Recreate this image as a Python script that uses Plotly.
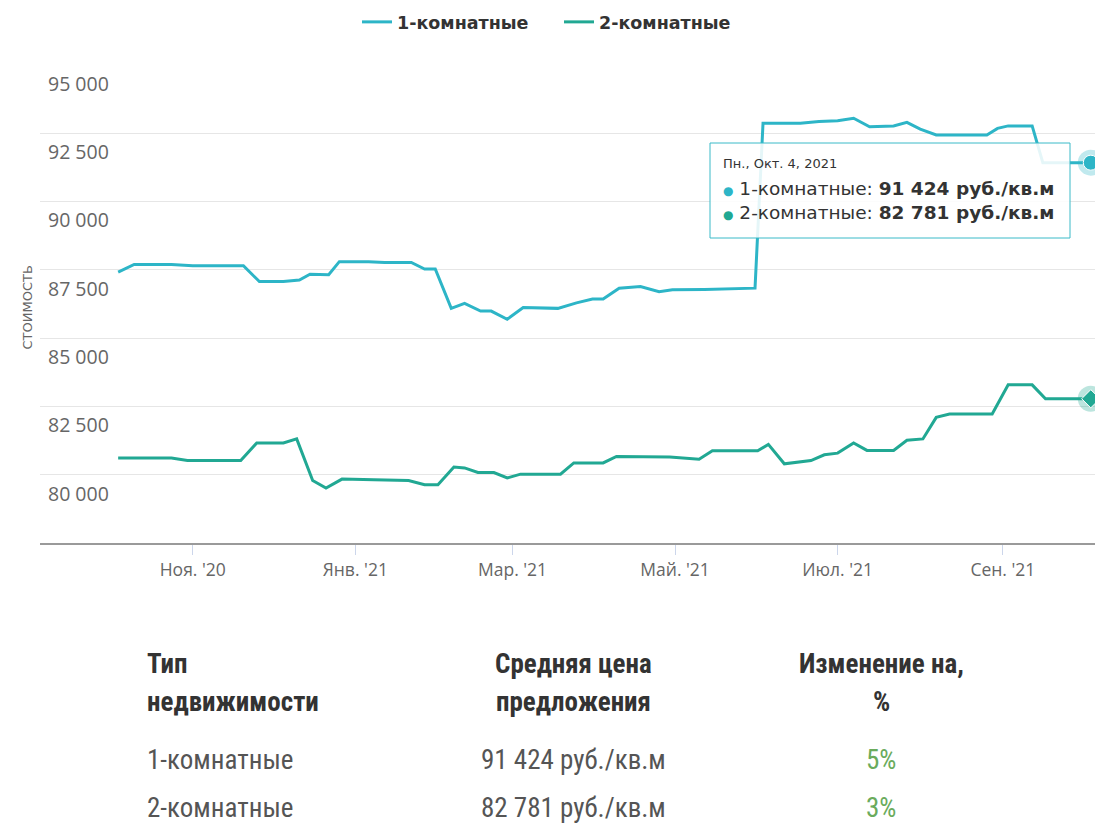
import plotly.graph_objects as go

# ---------------- data ----------------
series_names = ["1-комнатные", "2-комнатные"]

dates_1 = ["2020-10-04", "2020-10-10", "2020-10-24", "2020-11-01", "2020-11-20", "2020-11-26",
           "2020-12-05", "2020-12-11", "2020-12-15", "2020-12-22", "2020-12-26", "2021-01-06",
           "2021-01-12", "2021-01-22", "2021-01-27", "2021-01-31", "2021-02-06", "2021-02-11",
           "2021-02-17", "2021-02-21", "2021-02-27", "2021-03-05", "2021-03-18", "2021-03-25",
           "2021-03-31", "2021-04-04", "2021-04-10", "2021-04-18", "2021-04-25", "2021-04-30",
           "2021-05-12", "2021-05-31", "2021-06-03", "2021-06-17", "2021-06-24", "2021-07-01",
           "2021-07-07", "2021-07-13", "2021-07-22", "2021-07-27", "2021-08-01", "2021-08-07",
           "2021-08-26", "2021-08-30", "2021-09-03", "2021-09-12", "2021-09-16", "2021-10-04"]
values_1 = [87420, 87700, 87700, 87650, 87650, 87070,
            87070, 87130, 87340, 87320, 87800, 87800,
            87770, 87770, 87530, 87530, 86090, 86270,
            85990, 85990, 85690, 86120, 86090, 86290,
            86430, 86430, 86830, 86890, 86700, 86770,
            86780, 86830, 92870, 92870, 92930, 92960,
            93050, 92740, 92770, 92900, 92650, 92440,
            92440, 92680, 92770, 92770, 91424, 91424]

dates_2 = ["2020-10-04", "2020-10-24", "2020-10-30", "2020-11-19", "2020-11-25", "2020-12-05",
           "2020-12-10", "2020-12-16", "2020-12-21", "2020-12-27", "2021-01-08", "2021-01-21",
           "2021-01-27", "2021-02-01", "2021-02-07", "2021-02-11", "2021-02-16", "2021-02-22",
           "2021-02-27", "2021-03-04", "2021-03-19", "2021-03-24", "2021-04-04", "2021-04-09",
           "2021-04-29", "2021-05-10", "2021-05-15", "2021-06-01", "2021-06-05", "2021-06-11",
           "2021-06-21", "2021-06-26", "2021-07-01", "2021-07-07", "2021-07-12", "2021-07-22",
           "2021-07-27", "2021-08-02", "2021-08-07", "2021-08-12", "2021-08-28", "2021-09-03",
           "2021-09-12", "2021-09-17", "2021-10-04"]
values_2 = [80610, 80610, 80520, 80520, 81160, 81160,
            81310, 79790, 79510, 79840, 79820, 79790,
            79630, 79630, 80280, 80250, 80080, 80080,
            79880, 80020, 80020, 80430, 80430, 80670,
            80650, 80570, 80880, 80880, 81110, 80400,
            80520, 80730, 80790, 81160, 80890, 80890,
            81260, 81310, 82100, 82220, 82220, 83290,
            83290, 82781, 82781]

x_tick_vals = ["2020-11-01", "2021-01-01", "2021-03-01", "2021-05-01", "2021-07-01", "2021-09-01"]
x_tick_text = ["Ноя. '20", "Янв. '21", "Мар. '21", "Май. '21", "Июл. '21", "Сен. '21"]
y_tick_vals = [80000, 82500, 85000, 87500, 90000, 92500, 95000]
y_axis_title = "СТОИМОСТЬ"
tooltip_date = "Пн., Окт. 4, 2021"
unit = "руб./кв.м"

table_header_1 = ["Тип", "Средняя цена", "Изменение на,"]
table_header_2 = ["недвижимости", "предложения", "%"]
change_pct = [5, 3]

# ---------------- style ----------------
colors = ["#2db5c7", "#21a893"]
halo = ["rgba(45,181,199,0.3)", "rgba(33,168,147,0.3)"]
W, H = 1095, 825
ML, MR, MT, MB = 40, 0, 65, 282
PW, PH = W - ML - MR, H - MT - MB
WIDE = "DejaVu Sans, Verdana, sans-serif"


def px_x(x):
    return (x - ML) / PW


def px_y(y):
    return (H - MB - y) / PH


def fmt(v):
    return f"{v:,}".replace(",", " ")


fig = go.Figure()
all_dates = [dates_1, dates_2]
all_vals = [values_1, values_2]
for i in range(2):
    fig.add_trace(go.Scatter(x=all_dates[i], y=all_vals[i], mode="lines", name=series_names[i],
                             line=dict(color=colors[i], width=3), hoverinfo="skip"))
# hover markers at last point
symbols = ["circle", "diamond"]
for i in range(2):
    fig.add_trace(go.Scatter(x=[all_dates[i][-1]], y=[all_vals[i][-1]], mode="markers",
                             marker=dict(size=26, color=halo[i]), showlegend=False,
                             cliponaxis=False, hoverinfo="skip"))
    fig.add_trace(go.Scatter(x=[all_dates[i][-1]], y=[all_vals[i][-1]], mode="markers",
                             marker=dict(size=15 if i == 0 else 14, symbol=symbols[i], color=colors[i],
                                         line=dict(color="white", width=1)),
                             showlegend=False, cliponaxis=False, hoverinfo="skip"))

fig.update_layout(
    width=W, height=H, margin=dict(l=ML, r=MR, t=MT, b=MB),
    paper_bgcolor="white", plot_bgcolor="white",
    separators=", ",
    font=dict(family="Open Sans, sans-serif", color="#666666"),
    showlegend=True,
    legend=dict(orientation="h", x=px_x(559), xanchor="center", y=px_y(22), yanchor="middle",
                font=dict(family=WIDE, size=17.5, color="#333333", weight="bold"), itemwidth=30,
                entrywidth=157, entrywidthmode="pixels",
                bgcolor="rgba(0,0,0,0)"),
    xaxis=dict(type="date", range=["2020-09-04 16:00", "2021-10-05 14:00"],
               tickvals=x_tick_vals, ticktext=x_tick_text, showgrid=False, zeroline=False,
               showline=True, linecolor="#9a9a9a", linewidth=2,
               ticks="outside", ticklen=10, tickcolor="#ccd6eb", tickwidth=1,
               tickfont=dict(size=17.5, color="#666666")),
    yaxis=dict(range=[77500, 95000], tickvals=y_tick_vals, tickformat=",d",
               showgrid=True, gridcolor="#e6e6e6", gridwidth=1, zeroline=False, showline=False,
               ticklabelposition="inside", ticklabelstandoff=5, ticklabelshift=19,
               tickfont=dict(size=19.5, color="#666666")),
)

# y axis title
fig.add_annotation(text=y_axis_title, xref="paper", yref="paper", x=px_x(17), y=px_y(308),
                   textangle=-90, showarrow=False,
                   font=dict(family=WIDE, size=13, color="#666666"))

# tooltip box
fig.add_shape(type="rect", xref="paper", yref="paper", x0=px_x(710), x1=px_x(1070),
              y0=px_y(238), y1=px_y(143), fillcolor="rgba(255,255,255,0.88)",
              line=dict(color="#3bbac8", width=1), layer="above")
fig.add_annotation(text=tooltip_date, xref="paper", yref="paper", x=px_x(721), y=px_y(163),
                   xanchor="left", yanchor="middle", showarrow=False,
                   font=dict(family=WIDE, size=13, color="#333333"))
for i in range(2):
    txt = (f"<span style='color:{colors[i]};font-size:12px'>●</span> {series_names[i]}: "
           f"<b>{fmt(all_vals[i][-1])} {unit}</b>")
    fig.add_annotation(text=txt, xref="paper", yref="paper", x=px_x(721), y=px_y(188 + 24 * i),
                       xanchor="left", yanchor="middle", showarrow=False,
                       font=dict(family=WIDE, size=18.5, color="#333333"))

# table
table_font = "Liberation Sans Narrow, Roboto Condensed, Roboto, sans-serif"
col_x = [145, 573, 881]
col_anchor = ["left", "center", "center"]
for c in range(3):
    for j, lines in enumerate([table_header_1, table_header_2]):
        fig.add_annotation(text=f"<b>{lines[c]}</b>", xref="paper", yref="paper",
                           x=px_x(col_x[c]), y=px_y(664 + 38 * j), xanchor=col_anchor[c],
                           yanchor="middle", showarrow=False,
                           font=dict(family=table_font, size=27, color="#333333"))
for r in range(2):
    row = [series_names[r], f"{fmt(all_vals[r][-1])} {unit}", f"{change_pct[r]}%"]
    row_colors = ["#555555", "#555555", "#6aab5c"]
    for c in range(3):
        fig.add_annotation(text=row[c], xref="paper", yref="paper",
                           x=px_x(col_x[c]), y=px_y(760 + 48 * r), xanchor=col_anchor[c],
                           yanchor="middle", showarrow=False,
                           font=dict(family=table_font, size=27, color=row_colors[c]))

fig.write_html("out.html")
